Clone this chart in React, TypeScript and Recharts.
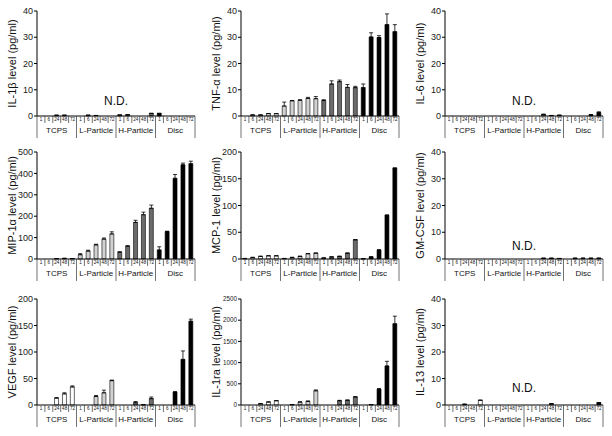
import React from 'react';
import { BarChart, Bar, Cell, XAxis, YAxis, ErrorBar, ReferenceLine } from 'recharts';

const GROUPS = ['TCPS', 'L-Particle', 'H-Particle', 'Disc'];
const TIMES = ['1', '6', '24', '48', '72'];
const GROUP_COLORS = ['#ffffff', '#d2d2d2', '#6b6b6b', '#000000'];

// pg/ml, 5 time points (h) per group, groups in GROUPS order
const IL1B = [0, 0, 0.3, 0.3, 0, 0, 0.3, 0.2, 0, 0, 0.4, 0.5, 0, 0, 1.0, 1.0, 0, 0, 0, 0];
const TNF = [0, 0.4, 0.4, 0.9, 0.9, 3.8, 5.8, 6.0, 6.7, 6.6, 5.9, 12.2, 13.1, 10.9, 10.8, 10.8, 30.1, 29.9, 34.8, 32.1];
const TNF_ERR = [0, 0, 0, 0, 0, 1.5, 0.1, 0.2, 0.4, 0.8, 0.3, 1.2, 0.6, 1.1, 0.5, 1.4, 1.6, 0.7, 4.1, 2.7];
const IL6 = [0, 0, 0, 0, 0, 0, 0, 0, 0, 0, 0, 0, 0.6, 0.2, 0.3, 0, 0, 0, 0.5, 1.3];
const IL6_ERR = [0, 0, 0, 0, 0, 0, 0, 0, 0, 0, 0, 0, 0.1, 0, 0, 0, 0, 0, 0, 0.3];
const MIP1A = [0, 0, 2, 3, 2, 20, 37, 66, 93, 117, 32, 60, 171, 207, 237, 42, 128, 377, 440, 445];
const MIP1A_ERR = [0, 0, 0, 0, 0, 5, 4, 3, 5, 10, 2, 2, 10, 12, 15, 15, 2, 18, 8, 12];
const MCP1 = [1, 3, 5, 6, 6, 1, 3, 5, 10, 11, 2, 4, 5, 11, 36, 0.5, 4, 17, 82, 170];
const GMCSF = [0, 0, 0, 0, 0, 0, 0, 0, 0, 0, 0, 0, 0.3, 0.3, 0.2, 0, 0.3, 0.3, 0.3, 0.3];
const VEGF = [0, 0, 13, 21, 34, 0, 0, 16, 23, 46, 0, 0, 4.5, 0.5, 12, 0, 0, 24.5, 86, 158];
const VEGF_ERR = [0, 0, 1, 2, 2, 0, 0, 2, 5, 1, 0, 0, 2, 0, 3, 0, 0, 0.5, 16, 4];
const IL1RA = [0, 0, 30, 70, 100, 0, 10, 70, 85, 335, 0, 0, 100, 110, 190, 0, 10, 375, 920, 1915];
const IL1RA_ERR = [0, 0, 5, 5, 5, 0, 0, 5, 10, 20, 0, 0, 10, 10, 5, 0, 0, 10, 110, 180];
const IL13 = [0, 0, 0.3, 0, 1.8, 0, 0, 0, 0, 0, 0, 0, 0, 0.5, 0, 0, 0, 0, 0, 0.9];
const NO_ERR = new Array(20).fill(0);

const TICKS_40 = [0, 10, 20, 30, 40];
const TICKS_200 = [0, 50, 100, 150, 200];
const TICKS_500 = [0, 100, 200, 300, 400, 500];
const TICKS_2500 = [0, 500, 1000, 1500, 2000, 2500];

const PANELS = [
  { label: 'IL-1β level (pg/ml)', ticks: TICKS_40, values: IL1B, errors: NO_ERR, nd: 6 },
  { label: 'TNF-α level (pg/ml)', ticks: TICKS_40, values: TNF, errors: TNF_ERR },
  { label: 'IL-6 level (pg/ml)', ticks: TICKS_40, values: IL6, errors: IL6_ERR, nd: 6 },
  { label: 'MIP-1α level (pg/ml)', ticks: TICKS_500, values: MIP1A, errors: MIP1A_ERR },
  { label: 'MCP-1 level (pg/ml)', ticks: TICKS_200, values: MCP1, errors: NO_ERR },
  { label: 'GM-CSF level (pg/ml)', ticks: TICKS_40, values: GMCSF, errors: NO_ERR, nd: 5 },
  { label: 'VEGF level (pg/ml)', ticks: TICKS_200, values: VEGF, errors: VEGF_ERR },
  { label: 'IL-1ra level (pg/ml)', ticks: TICKS_2500, values: IL1RA, errors: IL1RA_ERR, tickFont: 6.3 },
  { label: 'IL-13 level (pg/ml)', ticks: TICKS_40, values: IL13, errors: NO_ERR, nd: 6.5 },
];

// layout
const COL_W = 204;
const ROW_TOP = [0, 145, 290];
const ROW_H = [145, 145, 146];
const PLOT_TOP = [11, 7, 9];
const PLOT_H = [105, 107, 106];
const Y_W = 37;
const RIGHT = 9;
const XAXIS_H = 25;
const CELL_W = (COL_W - Y_W - RIGHT) / 20;

const XTick = (props: any) => {
  const { x, payload, axisY } = props;
  const i = payload?.index ?? props.index;
  const half = CELL_W / 2;
  const inner = i % 5;
  return (
    <g>
      {i === 0 && (
        <line x1={x - half} x2={x - half} y1={axisY} y2={axisY + 22} stroke="#333" strokeWidth={0.7} />
      )}
      <line
        x1={x + half}
        x2={x + half}
        y1={axisY}
        y2={inner === 4 ? axisY + 22 : axisY + 7}
        stroke="#333"
        strokeWidth={0.7}
      />
      <text x={x} y={axisY + 5.2} textAnchor="middle" fontSize={4.6} fill="#111">
        {TIMES[inner]}
      </text>
      {inner === 2 && (
        <text x={x} y={axisY + 17} textAnchor="middle" fontSize={8} fill="#111">
          {GROUPS[Math.floor(i / 5)]}
        </text>
      )}
    </g>
  );
};

const Panel = ({ panel, row, col }: { panel: any; row: number; col: number }) => {
  const data = panel.values.map((v: number, i: number) => ({
    key: GROUPS[Math.floor(i / 5)] + '-' + TIMES[i % 5],
    value: v,
    err: [0, panel.errors[i]],
  }));
  const top = PLOT_TOP[row];
  const axisY = top + PLOT_H[row];
  const bottom = ROW_H[row] - top - PLOT_H[row] - XAXIS_H;
  const max = panel.ticks[panel.ticks.length - 1];
  return (
    <div style={{ position: 'absolute', left: col * COL_W, top: ROW_TOP[row] }}>
      <BarChart
        width={COL_W}
        height={ROW_H[row]}
        data={data}
        margin={{ top, right: RIGHT, left: 0, bottom }}
        barCategoryGap="22%"
      >
        <XAxis
          dataKey="key"
          interval={0}
          height={XAXIS_H}
          tickLine={false}
          axisLine={{ stroke: '#000', strokeWidth: 1 }}
          tick={(p: any) => <XTick {...p} axisY={axisY} />}
        />
        <YAxis
          width={Y_W}
          domain={[0, max]}
          ticks={panel.ticks}
          interval={0}
          tickSize={3}
          tickMargin={1}
          tick={{ fontSize: panel.tickFont ?? 9, fill: '#222' }}
          axisLine={{ stroke: '#000', strokeWidth: 1 }}
          tickLine={{ stroke: '#000', strokeWidth: 1 }}
          label={{
            value: panel.label,
            angle: -90,
            position: 'insideLeft',
            offset: 12,
            fontSize: 11,
            fill: '#111',
            style: { textAnchor: 'middle' },
          }}
        />
        {panel.nd !== undefined && (
          <ReferenceLine
            y={panel.nd}
            stroke="none"
            label={{ value: 'N.D.', position: 'center', fontSize: 12, fill: '#111' }}
          />
        )}
        <Bar dataKey="value" stroke="#000" strokeWidth={0.6} isAnimationActive={false}>
          {data.map((_: any, i: number) => (
            <Cell key={i} fill={GROUP_COLORS[Math.floor(i / 5)]} />
          ))}
          <ErrorBar dataKey="err" width={2} stroke="#000" strokeWidth={0.8} direction="y" isAnimationActive={false} />
        </Bar>
      </BarChart>
    </div>
  );
};

export default function App() {
  return (
    <div
      style={{
        position: 'absolute',
        left: 0,
        top: 0,
        width: 612,
        height: 436,
        background: '#fff',
        fontFamily: '"Liberation Sans", Arial, sans-serif',
      }}
    >
      {PANELS.map((p, i) => (
        <Panel key={i} panel={p} row={Math.floor(i / 3)} col={i % 3} />
      ))}
    </div>
  );
}
